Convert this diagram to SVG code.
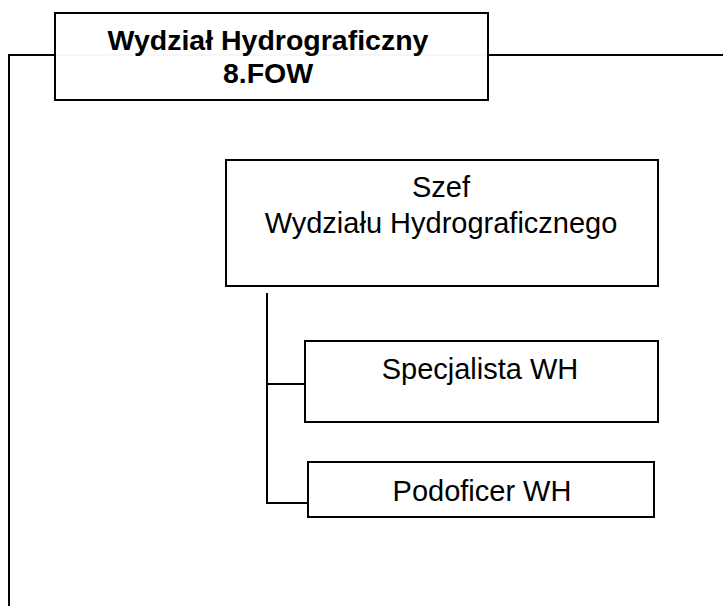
<svg xmlns="http://www.w3.org/2000/svg" width="723" height="606" viewBox="0 0 723 606">
<style>
.box{fill:#fff;stroke:#000;stroke-width:2}
.ln{fill:none;stroke:#000;stroke-width:2}
.t{font-family:"Liberation Sans",Arial,sans-serif;font-size:29px;fill:#000;text-anchor:middle}
.tb{font-family:"Liberation Sans",Arial,sans-serif;font-size:28.5px;font-weight:bold;fill:#000;text-anchor:middle}
</style>
<rect width="723" height="606" fill="#fff"/>
<g id="connectors">
<path class="ln" d="M9,606 V55 H55"/>
<path class="ln" d="M488,55 H723"/>
<path class="ln" d="M267,293 V503 H308"/>
<path class="ln" d="M267,384 H305"/>
</g>
<g id="title">
<rect class="box" x="55" y="13" width="433" height="87"/>
<line x1="56" y1="55" x2="487" y2="55" stroke="#eeeeee" stroke-width="1"/>
<text class="tb" x="268" y="50">Wydział Hydrograficzny</text>
<text class="tb" x="268" y="83">8.FOW</text>
</g>
<g id="szef">
<rect class="box" x="226" y="160" width="432" height="126"/>
<text class="t" x="441" y="197">Szef</text>
<text class="t" x="441" y="233">Wydziału Hydrograficznego</text>
</g>
<g id="specjalista">
<rect class="box" x="305" y="341" width="353" height="81"/>
<text class="t" x="480" y="379">Specjalista WH</text>
</g>
<g id="podoficer">
<rect class="box" x="308" y="462" width="346" height="55"/>
<text class="t" x="482" y="501">Podoficer WH</text>
</g>
</svg>
